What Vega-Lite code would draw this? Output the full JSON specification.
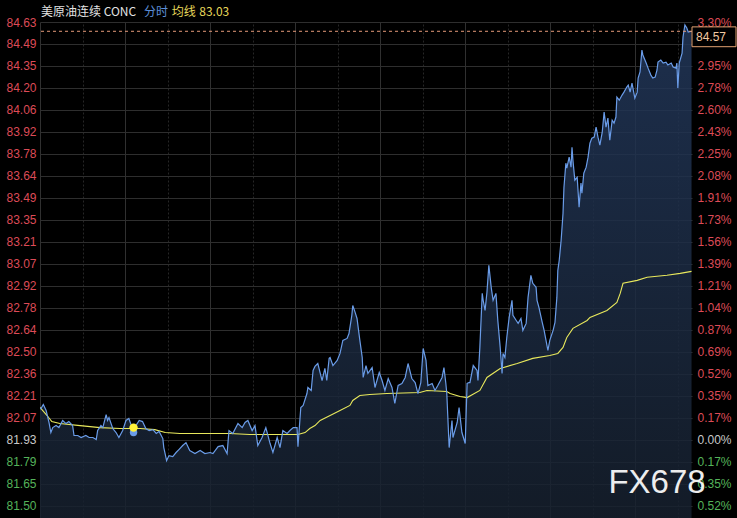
{
  "$schema": "https://vega.github.io/schema/vega-lite/v6.json",
  "width": 652,
  "height": 496,
  "autosize": "none",
  "padding": {"left": 40, "top": 22, "right": 45, "bottom": 0},
  "background": "#000000",
  "config": {"view": {"stroke": null}, "font": "Liberation Sans"},
  "datasets": {
    "price": [
      {"t":0,"p":82.133},{"t":2,"p":82.133},{"t":7,"p":82.159},{"t":13,"p":82.120},{"t":19,"p":82.043},{"t":23,"p":81.978},{"t":27,"p":82.010},{"t":34,"p":82.023},{"t":40,"p":82.010},{"t":48,"p":82.056},{"t":55,"p":82.036},{"t":61,"p":82.049},{"t":69,"p":82.023},{"t":72,"p":81.959},{"t":80,"p":81.959},{"t":87,"p":81.946},{"t":97,"p":81.959},{"t":104,"p":81.946},{"t":112,"p":81.946},{"t":119,"p":81.933},{"t":122,"p":81.991},{"t":129,"p":82.023},{"t":133,"p":82.010},{"t":140,"p":82.094},{"t":143,"p":82.056},{"t":146,"p":82.075},{"t":154,"p":82.004},{"t":161,"p":81.978},{"t":167,"p":81.946},{"t":175,"p":81.991},{"t":182,"p":82.056},{"t":188,"p":82.069},{"t":195,"p":82.010},{"t":203,"p":82.023},{"t":210,"p":82.056},{"t":217,"p":82.049},{"t":224,"p":82.004},{"t":231,"p":81.991},{"t":239,"p":81.997},{"t":246,"p":81.972},{"t":252,"p":81.985},{"t":260,"p":81.939},{"t":262,"p":81.881},{"t":268,"p":81.797},{"t":273,"p":81.829},{"t":281,"p":81.823},{"t":288,"p":81.849},{"t":294,"p":81.868},{"t":302,"p":81.894},{"t":309,"p":81.913},{"t":317,"p":81.862},{"t":328,"p":81.842},{"t":339,"p":81.862},{"t":349,"p":81.842},{"t":360,"p":81.849},{"t":366,"p":81.842},{"t":377,"p":81.887},{"t":387,"p":81.894},{"t":396,"p":81.842},{"t":400,"p":81.991},{"t":408,"p":81.972},{"t":419,"p":82.036},{"t":428,"p":82.010},{"t":434,"p":82.043},{"t":440,"p":82.056},{"t":449,"p":81.991},{"t":455,"p":82.023},{"t":461,"p":81.894},{"t":470,"p":81.946},{"t":478,"p":82.010},{"t":487,"p":81.907},{"t":493,"p":81.849},{"t":502,"p":81.946},{"t":508,"p":81.881},{"t":514,"p":81.991},{"t":523,"p":81.972},{"t":529,"p":81.991},{"t":536,"p":82.010},{"t":544,"p":82.010},{"t":546,"p":81.887},{"t":552,"p":82.140},{"t":557,"p":82.153},{"t":565,"p":82.230},{"t":567,"p":82.269},{"t":574,"p":82.250},{"t":578,"p":82.379},{"t":582,"p":82.405},{"t":588,"p":82.424},{"t":597,"p":82.314},{"t":603,"p":82.392},{"t":607,"p":82.314},{"t":612,"p":82.457},{"t":614,"p":82.463},{"t":620,"p":82.411},{"t":629,"p":82.444},{"t":635,"p":82.489},{"t":641,"p":82.573},{"t":650,"p":82.586},{"t":654,"p":82.618},{"t":660,"p":82.735},{"t":662,"p":82.799},{"t":667,"p":82.754},{"t":671,"p":82.715},{"t":677,"p":82.573},{"t":682,"p":82.463},{"t":684,"p":82.334},{"t":690,"p":82.411},{"t":694,"p":82.360},{"t":703,"p":82.398},{"t":709,"p":82.269},{"t":718,"p":82.366},{"t":724,"p":82.314},{"t":730,"p":82.250},{"t":737,"p":82.327},{"t":745,"p":82.269},{"t":751,"p":82.166},{"t":758,"p":82.282},{"t":766,"p":82.295},{"t":773,"p":82.334},{"t":779,"p":82.424},{"t":787,"p":82.327},{"t":794,"p":82.301},{"t":800,"p":82.230},{"t":806,"p":82.301},{"t":811,"p":82.521},{"t":817,"p":82.444},{"t":821,"p":82.282},{"t":830,"p":82.295},{"t":836,"p":82.250},{"t":842,"p":82.282},{"t":851,"p":82.334},{"t":855,"p":82.398},{"t":859,"p":82.295},{"t":861,"p":82.230},{"t":866,"p":81.881},{"t":872,"p":82.056},{"t":874,"p":81.946},{"t":883,"p":82.043},{"t":887,"p":82.140},{"t":893,"p":81.978},{"t":900,"p":81.907},{"t":904,"p":82.295},{"t":908,"p":82.301},{"t":910,"p":82.301},{"t":917,"p":82.411},{"t":925,"p":82.379},{"t":927,"p":82.314},{"t":931,"p":82.528},{"t":936,"p":82.877},{"t":938,"p":82.832},{"t":942,"p":82.767},{"t":946,"p":82.884},{"t":950,"p":83.058},{"t":955,"p":82.916},{"t":959,"p":82.832},{"t":965,"p":82.877},{"t":969,"p":82.702},{"t":974,"p":82.528},{"t":978,"p":82.360},{"t":980,"p":82.489},{"t":984,"p":82.463},{"t":988,"p":82.592},{"t":993,"p":82.722},{"t":999,"p":82.832},{"t":1001,"p":82.735},{"t":1008,"p":82.702},{"t":1012,"p":82.683},{"t":1018,"p":82.715},{"t":1022,"p":82.638},{"t":1029,"p":82.683},{"t":1033,"p":82.851},{"t":1039,"p":82.994},{"t":1043,"p":82.942},{"t":1050,"p":82.916},{"t":1052,"p":82.832},{"t":1056,"p":82.787},{"t":1063,"p":82.690},{"t":1067,"p":82.638},{"t":1071,"p":82.573},{"t":1075,"p":82.508},{"t":1079,"p":82.573},{"t":1086,"p":82.638},{"t":1090,"p":82.690},{"t":1094,"p":82.851},{"t":1096,"p":83.026},{"t":1099,"p":83.091},{"t":1103,"p":83.220},{"t":1107,"p":83.395},{"t":1109,"p":83.563},{"t":1113,"p":83.718},{"t":1115,"p":83.686},{"t":1120,"p":83.757},{"t":1124,"p":83.692},{"t":1126,"p":83.821},{"t":1128,"p":83.737},{"t":1132,"p":83.608},{"t":1137,"p":83.627},{"t":1141,"p":83.433},{"t":1145,"p":83.589},{"t":1147,"p":83.524},{"t":1151,"p":83.653},{"t":1156,"p":83.692},{"t":1160,"p":83.757},{"t":1164,"p":83.847},{"t":1168,"p":83.880},{"t":1173,"p":83.886},{"t":1177,"p":83.951},{"t":1181,"p":83.886},{"t":1185,"p":83.834},{"t":1190,"p":83.918},{"t":1194,"p":84.048},{"t":1198,"p":83.951},{"t":1202,"p":84.009},{"t":1206,"p":83.867},{"t":1211,"p":83.996},{"t":1215,"p":83.977},{"t":1219,"p":84.016},{"t":1221,"p":84.145},{"t":1226,"p":84.125},{"t":1232,"p":84.158},{"t":1236,"p":84.177},{"t":1242,"p":84.210},{"t":1245,"p":84.222},{"t":1249,"p":84.177},{"t":1253,"p":84.235},{"t":1259,"p":84.138},{"t":1264,"p":84.177},{"t":1266,"p":84.268},{"t":1270,"p":84.307},{"t":1274,"p":84.449},{"t":1276,"p":84.417},{"t":1283,"p":84.365},{"t":1287,"p":84.332},{"t":1293,"p":84.287},{"t":1297,"p":84.268},{"t":1302,"p":84.274},{"t":1306,"p":84.320},{"t":1308,"p":84.371},{"t":1314,"p":84.384},{"t":1319,"p":84.365},{"t":1325,"p":84.371},{"t":1329,"p":84.352},{"t":1336,"p":84.365},{"t":1340,"p":84.339},{"t":1346,"p":84.332},{"t":1348,"p":84.365},{"t":1350,"p":84.203},{"t":1353,"p":84.365},{"t":1359,"p":84.429},{"t":1361,"p":84.533},{"t":1365,"p":84.611},{"t":1369,"p":84.591},{"t":1372,"p":84.565},{"t":1379,"p":84.57}
    ],
    "avg": [
      {"t":0,"a":82.140},{"t":15,"a":82.088},{"t":25,"a":82.049},{"t":42,"a":82.036},{"t":85,"a":82.023},{"t":127,"a":82.010},{"t":169,"a":82.004},{"t":212,"a":82.004},{"t":243,"a":81.997},{"t":265,"a":81.978},{"t":296,"a":81.972},{"t":402,"a":81.972},{"t":444,"a":81.965},{"t":546,"a":81.965},{"t":561,"a":81.978},{"t":571,"a":82.004},{"t":582,"a":82.023},{"t":593,"a":82.056},{"t":614,"a":82.088},{"t":635,"a":82.120},{"t":656,"a":82.153},{"t":662,"a":82.185},{"t":677,"a":82.217},{"t":698,"a":82.224},{"t":734,"a":82.230},{"t":804,"a":82.237},{"t":819,"a":82.250},{"t":861,"a":82.243},{"t":868,"a":82.230},{"t":889,"a":82.211},{"t":904,"a":82.204},{"t":931,"a":82.250},{"t":946,"a":82.334},{"t":974,"a":82.392},{"t":1010,"a":82.424},{"t":1043,"a":82.457},{"t":1079,"a":82.476},{"t":1096,"a":82.489},{"t":1107,"a":82.528},{"t":1115,"a":82.592},{"t":1128,"a":82.651},{"t":1158,"a":82.702},{"t":1164,"a":82.722},{"t":1200,"a":82.767},{"t":1221,"a":82.819},{"t":1228,"a":82.877},{"t":1234,"a":82.942},{"t":1264,"a":82.961},{"t":1285,"a":82.981},{"t":1327,"a":82.994},{"t":1355,"a":83.006},{"t":1379,"a":83.019}
    ]
  },
  "resolve": {"axis": {"x": "independent", "y": "independent"}},
  "layer": [
    {
      "data": {"name": "price"},
      "mark": {"type": "area", "clip": true, "opacity": 0.85,
        "color": {"x1": 0, "y1": 0, "x2": 0, "y2": 1, "gradient": "linear",
          "stops": [{"offset": 0, "color": "#22375a"}, {"offset": 1, "color": "#16202e"}]}},
      "encoding": {
        "x": {"field": "t", "type": "quantitative",
          "scale": {"domain": [0, 1380], "nice": false, "zero": false},
          "axis": {"orient": "bottom", "values": [0, 180, 360, 540, 720, 900, 1080, 1260], "grid": true, "gridColor": "#303030", "gridWidth": 1, "labels": false, "ticks": false, "domain": false, "title": null}},
        "y": {"field": "p", "type": "quantitative",
          "scale": {"domain": [81.426, 84.63], "nice": false, "zero": false},
          "axis": {"orient": "left", "title": null, "domain": false, "ticks": false, "tickSize": 0, "labelPadding": 4,
            "values": [81.50368, 81.64579, 81.78789, 81.93, 82.07211, 82.21421, 82.35632, 82.49842, 82.64053, 82.78263, 82.92474, 83.06684, 83.20895, 83.35105, 83.49316, 83.63526, 83.77737, 83.91947, 84.06158, 84.20368, 84.34579, 84.48789, 84.63],
            "format": ".2f", "labelFontSize": 12, "labelFont": "Liberation Sans", "labelOverlap": false, "labelFlush": false, "labelBaseline": "middle",
            "labelColor": {"expr": "datum.value > 81.931 ? '#dd4b57' : (datum.value < 81.929 ? '#55b35a' : '#c8c8c8')"},
            "grid": true, "gridColor": "#2e2e2e", "gridWidth": 1}},
        "y2": {"datum": 81.426}
      }
    },
    {
      "data": {"name": "avg"},
      "mark": {"type": "line", "clip": true, "color": "#e8e85c", "strokeWidth": 1.1},
      "encoding": {
        "x": {"field": "t", "type": "quantitative",
          "scale": {"domain": [0, 1380], "nice": false, "zero": false},
          "axis": {"orient": "top", "values": [90, 270, 450, 630, 810, 990, 1170, 1350], "grid": true, "gridColor": "#262626", "gridDash": [2, 2], "labels": false, "ticks": false, "domain": false, "title": null}},
        "y": {"field": "a", "type": "quantitative",
          "scale": {"domain": [81.426, 84.63], "nice": false, "zero": false},
          "axis": {"orient": "right", "title": null, "domain": false, "ticks": false, "tickSize": 0, "labelPadding": 5, "grid": false,
            "values": [81.50368, 81.64579, 81.78789, 81.93, 82.07211, 82.21421, 82.35632, 82.49842, 82.64053, 82.78263, 82.92474, 83.06684, 83.20895, 83.35105, 83.49316, 83.63526, 83.77737, 83.91947, 84.06158, 84.20368, 84.34579, 84.63],
            "labelExpr": "format(abs(datum.value - 81.93) / 81.93 * 100, '.2f') + '%'",
            "labelFontSize": 12, "labelFont": "Liberation Sans", "labelOverlap": false, "labelFlush": false, "labelBaseline": "middle",
            "labelColor": {"expr": "datum.value > 81.931 ? '#dd4b57' : (datum.value < 81.929 ? '#55b35a' : '#c8c8c8')"}}}
      }
    },
    {
      "data": {"name": "price"},
      "mark": {"type": "line", "clip": true, "color": "#6a9ce8", "strokeWidth": 1.2},
      "encoding": {
        "x": {"field": "t", "type": "quantitative", "axis": null},
        "y": {"field": "p", "type": "quantitative", "axis": null}
      }
    },
    {
      "data": {"values": [{"level": 84.57}]},
      "mark": {"type": "rule", "color": "#e49a78", "strokeDash": [3, 3], "strokeWidth": 1},
      "encoding": {
        "y": {"field": "level", "type": "quantitative", "axis": null}
      }
    },
    {
      "data": {"values": [{"t": 1380, "p": 84.57}]},
      "mark": {"type": "point", "shape": "M0,-0.2L2,-0.2L2,0.7L0,0.7Z", "size": 1936, "filled": false, "stroke": "#e0a070", "strokeWidth": 1, "fill": "#000000", "fillOpacity": 1, "opacity": 1},
      "encoding": {
        "x": {"field": "t", "type": "quantitative", "axis": null},
        "y": {"field": "p", "type": "quantitative", "axis": null}
      }
    },
    {
      "data": {"values": [{"t": 1380, "p": 84.57}]},
      "mark": {"type": "text", "align": "left", "baseline": "middle", "dx": 4, "dy": 6, "fontSize": 12, "font": "Liberation Sans", "color": "#f2c9a2"},
      "encoding": {
        "x": {"field": "t", "type": "quantitative", "axis": null},
        "y": {"field": "p", "type": "quantitative", "axis": null},
        "text": {"field": "p", "type": "quantitative", "format": ".2f"}
      }
    },
    {
      "data": {"values": [{"t": 198, "p": 81.978}]},
      "mark": {"type": "point", "filled": true, "size": 55, "color": "#6a9ce8", "opacity": 1},
      "encoding": {
        "x": {"field": "t", "type": "quantitative", "axis": null},
        "y": {"field": "p", "type": "quantitative", "axis": null}
      }
    },
    {
      "data": {"values": [{"t": 198, "p": 82.010}]},
      "mark": {"type": "point", "filled": true, "size": 70, "color": "#fff23a", "opacity": 1},
      "encoding": {
        "x": {"field": "t", "type": "quantitative", "axis": null},
        "y": {"field": "p", "type": "quantitative", "axis": null}
      }
    },
    {
      "data": {"values": [{"label": "美原油连续 CONC"}]},
      "mark": {"type": "text", "align": "left", "baseline": "middle", "dx": 1, "fontSize": 12, "font": "Noto Sans CJK SC", "color": "#e2e2e2"},
      "encoding": {
        "x": {"datum": 0, "type": "quantitative", "axis": null},
        "y": {"datum": 84.695, "type": "quantitative", "axis": null},
        "text": {"field": "label"}
      }
    },
    {
      "data": {"values": [{"label": "分时"}]},
      "mark": {"type": "text", "align": "left", "baseline": "middle", "fontSize": 12, "font": "Noto Sans CJK SC", "color": "#5c8fd8"},
      "encoding": {
        "x": {"datum": 220, "type": "quantitative", "axis": null},
        "y": {"datum": 84.695, "type": "quantitative", "axis": null},
        "text": {"field": "label"}
      }
    },
    {
      "data": {"values": [{"label": "均线"}]},
      "mark": {"type": "text", "align": "left", "baseline": "middle", "fontSize": 12, "font": "Noto Sans CJK SC", "color": "#e6d85a"},
      "encoding": {
        "x": {"datum": 279, "type": "quantitative", "axis": null},
        "y": {"datum": 84.695, "type": "quantitative", "axis": null},
        "text": {"field": "label"}
      }
    },
    {
      "data": {"values": [{"label": "83.03"}]},
      "mark": {"type": "text", "align": "left", "baseline": "middle", "fontSize": 12, "font": "Noto Sans CJK SC", "color": "#e6d85a"},
      "encoding": {
        "x": {"datum": 337, "type": "quantitative", "axis": null},
        "y": {"datum": 84.695, "type": "quantitative", "axis": null},
        "text": {"field": "label"}
      }
    },
    {
      "data": {"values": [{"label": "FX678"}]},
      "mark": {"type": "text", "align": "center", "baseline": "middle", "fontSize": 33, "font": "Liberation Sans", "color": "#ffffff", "opacity": 0.92},
      "encoding": {
        "x": {"datum": 1306, "type": "quantitative", "axis": null},
        "y": {"datum": 81.655, "type": "quantitative", "axis": null},
        "text": {"field": "label"}
      }
    }
  ]
}
